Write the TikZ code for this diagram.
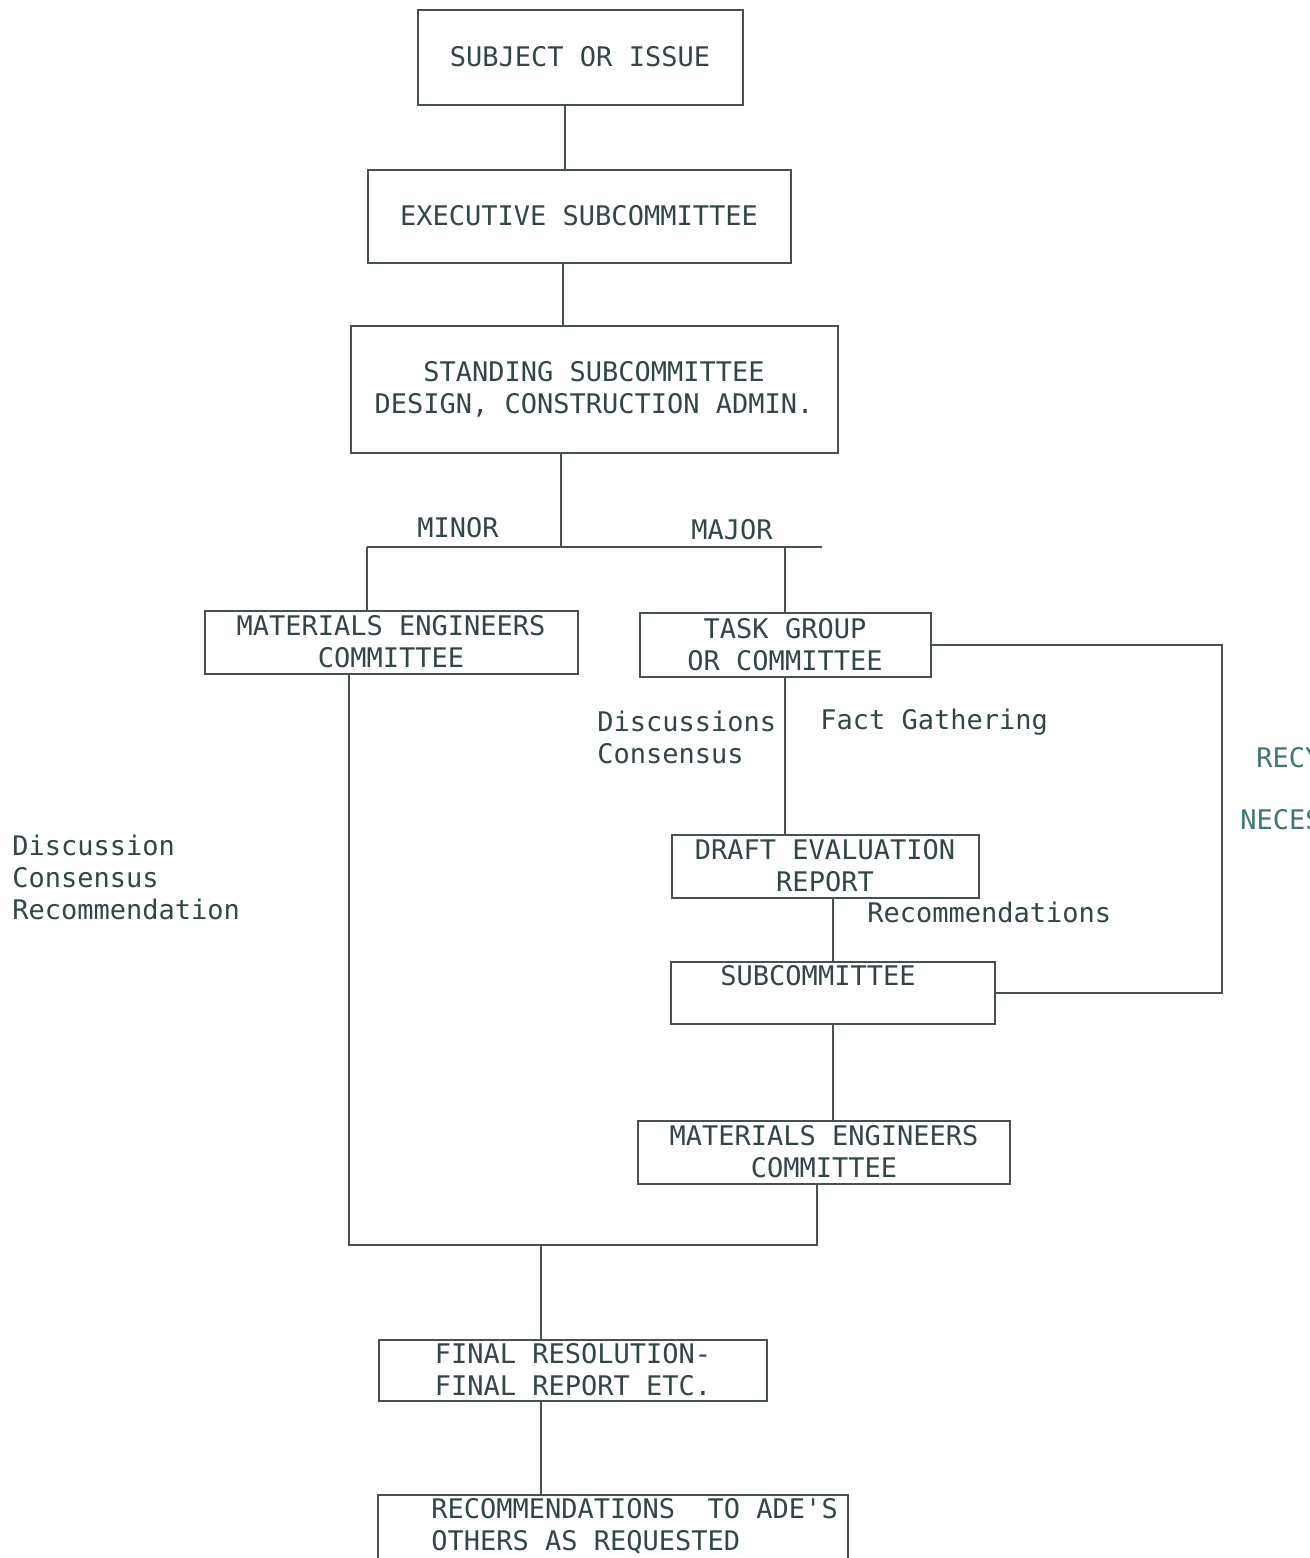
\documentclass[tikz,border=0pt]{standalone}
\usepackage{fontspec}
\setmainfont{DejaVu Sans Mono}
\definecolor{inkline}{RGB}{70,82,82}
\definecolor{inktext}{RGB}{50,70,72}
\definecolor{inkteal}{RGB}{62,118,116}
\begin{document}
\begin{tikzpicture}[x=0.5pt,y=-0.5pt]
		\tikzstyle{box}=[draw=inkline,line width=1pt,inner sep=0pt,align=center,text=inktext,font=\fontsize{13.5}{16}\selectfont];
		\tikzstyle{note}=[inner sep=0pt,align=left,text=inktext,font=\fontsize{13.5}{16}\selectfont];
		\useasboundingbox (0,0) rectangle (1310,1558);
		\clip (0,0) rectangle (1310,1558);
		\node[box,minimum width=162.5pt,minimum height=47.5pt] (subj) at (580,57) {SUBJECT OR ISSUE};
		\node[box,minimum width=211.5pt,minimum height=46.5pt] (exec) at (579,216) {EXECUTIVE SUBCOMMITTEE};
		\node[box,minimum width=243.5pt,minimum height=63.5pt] (stand) at (594,389) {STANDING SUBCOMMITTEE\\DESIGN, CONSTRUCTION ADMIN.};
		\node[box,minimum width=186.5pt,minimum height=31.5pt] (mecL) at (391,642) {MATERIALS ENGINEERS\\COMMITTEE};
		\node[box,minimum width=145.5pt,minimum height=32pt] (tg) at (785,645) {TASK GROUP\\OR COMMITTEE};
		\node[box,minimum width=153.5pt,minimum height=31.5pt] (draft) at (825,866) {DRAFT EVALUATION\\REPORT};
		\node[box,minimum width=162pt,minimum height=31pt] (sub) at (833,993) {};
		\node[note] (subtxt) at (818,976) {SUBCOMMITTEE};
		\node[box,minimum width=186pt,minimum height=31.5pt] (mecR) at (824,1152) {MATERIALS ENGINEERS\\COMMITTEE};
		\node[box,minimum width=194pt,minimum height=30.5pt] (final) at (573,1370) {FINAL RESOLUTION-\\FINAL REPORT ETC.};
		\node[box,minimum width=235pt,minimum height=52.5pt] (recs) at (613,1547) {};
		\node[note,anchor=west] (recstxt) at (431,1526) {RECOMMENDATIONS\ \ TO ADE\textquotesingle S\\OTHERS AS REQUESTED};
		% labels
		\node[note] (minor) at (458,528) {MINOR};
		\node[note] (major) at (732,530) {MAJOR};
		\node[note,anchor=west] (disc) at (597,737) {Discussions\\Consensus};
		\node[note,anchor=west] (fact) at (820,722) {Fact Gathering};
		\node[note,anchor=west] (recom) at (867,912) {Recommendations};
		\node[note,anchor=west] (left) at (12,877) {Discussion\\Consensus\\Recommendation};
		\node[note,anchor=west,text=inkteal] (recy) at (1256,758) {RECY};
		\node[note,anchor=west,text=inkteal] (neces) at (1240,820) {NECES};
		% connectors
		\coordinate (split) at (561,547);
		\coordinate (bl) at (367,547);
		\coordinate (br) at (822,547);
		\coordinate (merge) at (541,1245);
		\draw[inkline,line width=1pt]
		([xshift=-7.5pt]subj.south) -- ([xshift=-7.5pt]subj.south |- exec.north)
		([xshift=-8pt]exec.south) -- ([xshift=-8pt]exec.south |- stand.north)
		(split |- stand.south) -- (split)
		(bl) -- (br)
		(bl) -- (bl |- mecL.north)
		(tg.north |- br) -- (tg.north)
		(tg.south) -- (tg.south |- draft.north)
		(sub.north |- draft.south) -- (sub.north)
		(sub.south) -- (sub.south |- mecR.north)
		(tg.east) -- ++(145pt,0) |- (sub.east)
		([xshift=-21pt]mecL.south) |- (merge) -| ([xshift=-3.5pt]mecR.south)
		(merge) -- (merge |- final.north)
		(merge |- final.south) -- (merge |- recs.north);
		\end{tikzpicture}
\end{document}
